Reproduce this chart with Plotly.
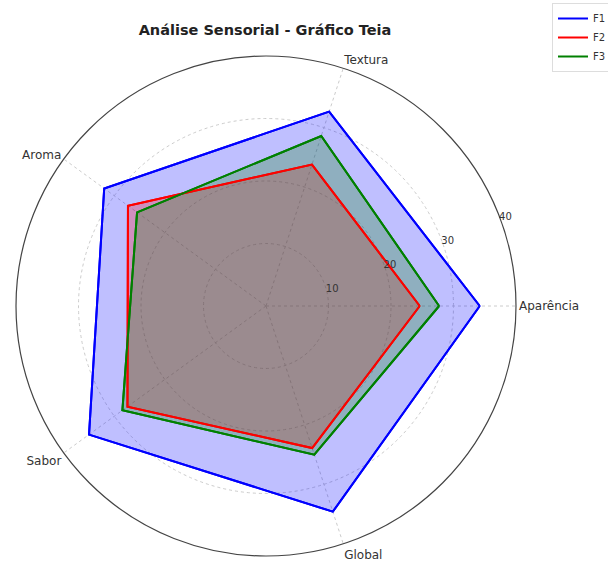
import plotly.graph_objects as go

categories = ["Aparência", "Textura", "Aroma", "Sabor", "Global"]
f1 = [34.2, 32.7, 32.0, 35.0, 34.6]
f2 = [24.6, 23.8, 27.3, 27.4, 23.9]
f3 = [27.7, 28.6, 25.5, 28.4, 25.0]
series_names = ["F1", "F2", "F3"]
line_colors = ["#0000ff", "#ff0000", "#008000"]
fill_colors = ["rgba(0,0,255,0.25)", "rgba(255,0,0,0.25)", "rgba(0,128,0,0.25)"]
radial_ticks = [10, 20, 30, 40]

W, H = 608, 562
cx, cy, R = 266, 306, 250

fig = go.Figure()
all_vals = [f1, f2, f3]
# filled areas (no legend)
for name, vals, lc, fc in zip(series_names, all_vals, line_colors, fill_colors):
    fig.add_trace(go.Scatterpolar(
        r=vals + vals[:1],
        theta=categories + categories[:1],
        mode="lines",
        fill="toself",
        fillcolor=fc,
        line=dict(color=lc, width=2),
        name=name,
        showlegend=False,
    ))
# outlines (legend shows lines only)
for name, vals, lc in zip(series_names, all_vals, line_colors):
    fig.add_trace(go.Scatterpolar(
        r=vals + vals[:1],
        theta=categories + categories[:1],
        mode="lines",
        line=dict(color=lc, width=2),
        name=name,
        showlegend=True,
    ))

fig.update_layout(
    width=W, height=H,
    margin=dict(l=0, r=0, t=0, b=0, autoexpand=False),
    paper_bgcolor="white",
    font=dict(family="DejaVu Sans", color="#333333"),
    title=dict(text="<b>Análise Sensorial - Gráfico Teia</b>",
               x=265 / W, y=1 - 30 / H, xanchor="center", yanchor="middle",
               font=dict(size=14.5, color="#222222", family="DejaVu Sans")),
    polar=dict(
        domain=dict(x=[(cx - R) / W, (cx + R) / W], y=[(H - cy - R) / H, (H - cy + R) / H]),
        bgcolor="white",
        angularaxis=dict(
            direction="counterclockwise", rotation=0,
            showline=True, linecolor="#444444", linewidth=1.2,
            gridcolor="#cccccc", griddash="dot", gridwidth=1,
            ticks="", tickfont=dict(size=12, color="#333333"),
        ),
        radialaxis=dict(
            range=[0, 40], tickvals=radial_ticks, angle=22.5, tickangle=22.5,
            showline=False, ticks="",
            gridcolor="#cccccc", griddash="dot", gridwidth=1,
            tickfont=dict(size=10, color="#333333"),
        ),
    ),
    showlegend=True,
    legend=dict(x=552 / W, y=1 - 3 / H, xanchor="left", yanchor="top",
                bordercolor="#dddddd", borderwidth=1, bgcolor="white",
                font=dict(size=10, color="#333333"), itemwidth=30,
                tracegroupgap=0),
)

fig.write_html("out.html", config={"displayModeBar": False},
               post_script="document.body.style.margin='0';")
